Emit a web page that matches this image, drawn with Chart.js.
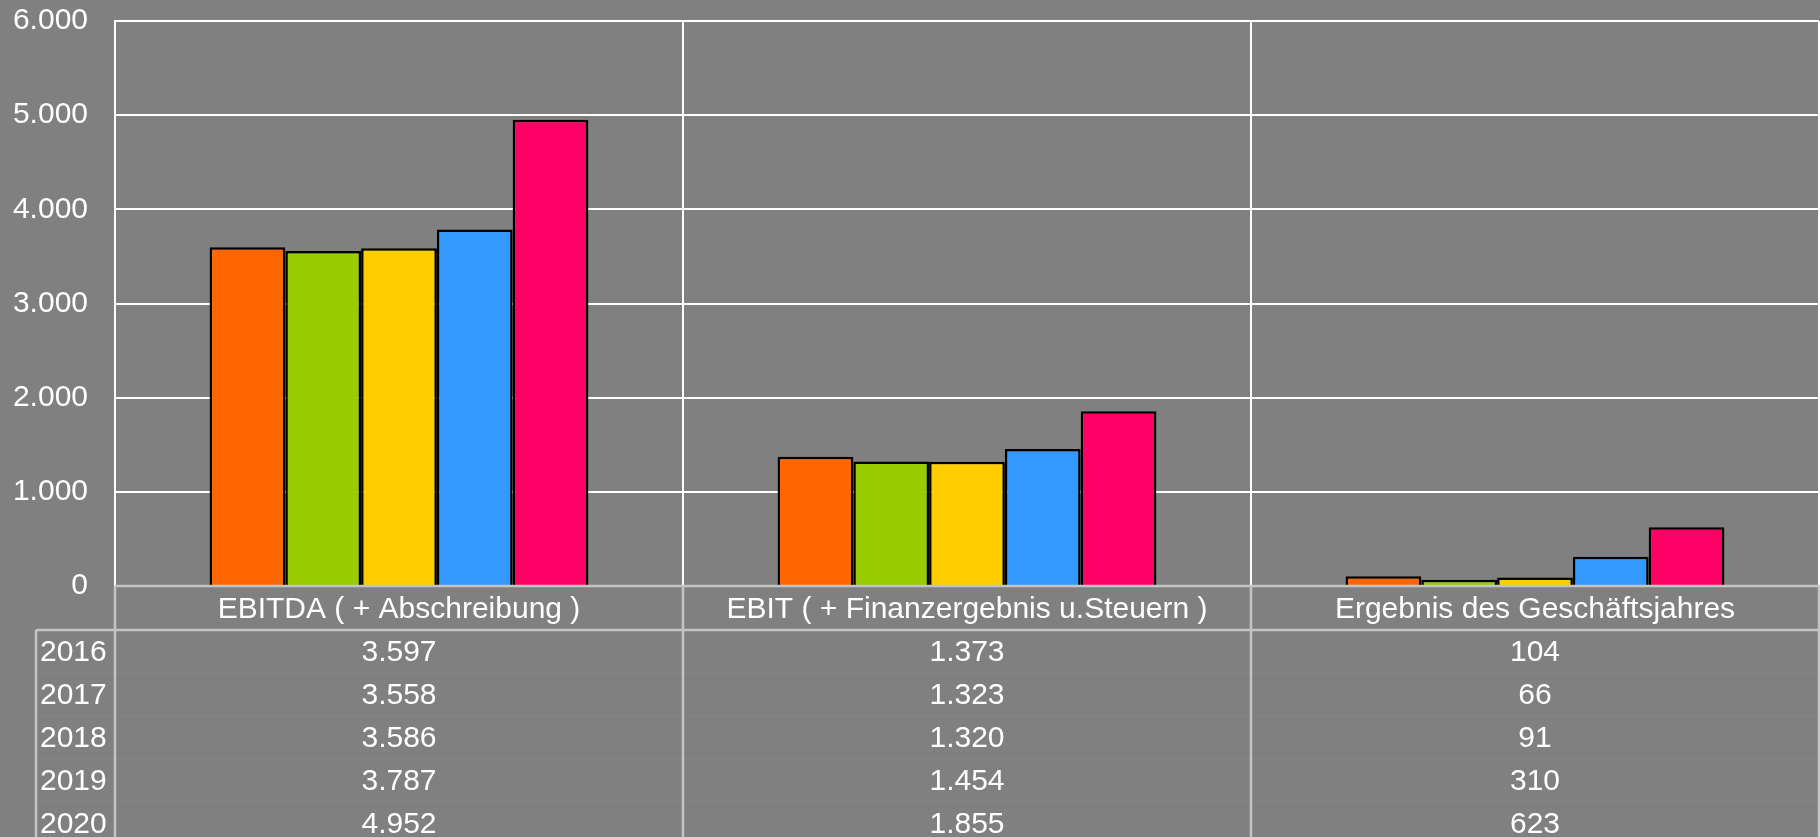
<!DOCTYPE html>
<html>
<head>
<meta charset="utf-8">
<script src="https://cdn.jsdelivr.net/npm/chart.js@4/dist/chart.umd.min.js"></script>
<style>
  html, body { margin: 0; padding: 0; background: #808080; overflow: hidden; }
  #wrap { width: 1820px; height: 837px; position: relative; }
</style>
</head>
<body>
<div id="wrap"><canvas id="c"></canvas></div>
<script>
const categories = ['EBITDA ( + Abschreibung )', 'EBIT ( + Finanzergebnis u.Steuern )', 'Ergebnis des Geschäftsjahres'];
const years = ['2016', '2017', '2018', '2019', '2020'];
const values2016 = [3597, 1373, 104];
const values2017 = [3558, 1323, 66];
const values2018 = [3586, 1320, 91];
const values2019 = [3787, 1454, 310];
const values2020 = [4952, 1855, 623];
const seriesValues = [values2016, values2017, values2018, values2019, values2020];
const seriesColors = ['#FF6600', '#99CC00', '#FFCC00', '#3399FF', '#FF0066'];
const yMin = 0, yMax = 6000, yStep = 1000;

const FONT = '"Liberation Sans", Arial, sans-serif';

function fmt(n) {
  const s = String(Math.abs(Math.round(n)));
  const out = s.replace(/\B(?=(\d{3})+(?!\d))/g, '.');
  return (n < 0 ? '-' : '') + out;
}

const tablePlugin = {
  id: 'dataTable',
  afterDraw(chart) {
    const ctx = chart.ctx;
    const area = chart.chartArea;
    const x = chart.scales.x;
    const headerH = 44;
    const rowH = 43;
    const top = area.bottom;
    const headBottom = top + headerH;
    const tableLeft = 36;
    const bottom = chart.height + 5;
    const n = categories.length;
    const step = x.getPixelForValue(1) - x.getPixelForValue(0);
    const bounds = [];
    for (let i = 0; i <= n; i++) bounds.push(x.getPixelForValue(0) - step / 2 + i * step);
    ctx.save();
    ctx.strokeStyle = 'rgba(200,200,200,0.10)';
    ctx.lineWidth = 1;
    for (let r = 1; r < years.length; r++) {
      const yy = headBottom + r * rowH;
      ctx.beginPath();
      ctx.moveTo(tableLeft, yy);
      ctx.lineTo(bounds[n], yy);
      ctx.stroke();
    }
    ctx.strokeStyle = '#C4C4C4';
    ctx.lineWidth = 2.5;
    ctx.beginPath();
    ctx.moveTo(bounds[0], top);
    ctx.lineTo(bounds[n], top);
    ctx.moveTo(tableLeft, headBottom);
    ctx.lineTo(bounds[n], headBottom);
    for (let i = 0; i <= n; i++) {
      ctx.moveTo(bounds[i], top);
      ctx.lineTo(bounds[i], bottom);
    }
    ctx.moveTo(tableLeft, headBottom);
    ctx.lineTo(tableLeft, bottom);
    ctx.stroke();

    ctx.fillStyle = '#FFFFFF';
    ctx.font = '30px ' + FONT;
    ctx.textBaseline = 'middle';
    for (let r = 0; r < years.length; r++) {
      const cy = headBottom + r * rowH + rowH / 2 + 1;
      ctx.textAlign = 'left';
      ctx.fillText(years[r], 40, cy);
      ctx.textAlign = 'center';
      for (let i = 0; i < n; i++) {
        ctx.fillText(fmt(seriesValues[r][i]), x.getPixelForValue(i), cy);
      }
    }
    ctx.restore();
  }
};

const datasets = years.map((yr, k) => ({
  label: yr,
  data: seriesValues[k],
  backgroundColor: seriesColors[k],
  borderColor: '#000000',
  borderWidth: 2.5,
  categoryPercentage: 0.667,
  barPercentage: 1.0
}));

new Chart(document.getElementById('c'), {
  type: 'bar',
  data: { labels: categories, datasets },
  plugins: [tablePlugin],
  options: {
    responsive: true,
    maintainAspectRatio: false,
    animation: false,
    layout: { padding: { top: 21, right: 1, bottom: 203, left: 0 } },
    plugins: { legend: { display: false }, tooltip: { enabled: false } },
    scales: {
      x: {
        grid: { color: '#FFFFFF', lineWidth: 2, drawTicks: false, offset: true },
        border: { color: '#C4C4C4', width: 2 },
        ticks: {
          color: '#FFFFFF',
          font: { size: 30, family: FONT },
          padding: 6,
          maxRotation: 0,
          autoSkip: false
        }
      },
      y: {
        min: yMin,
        max: yMax,
        afterFit(scale) { scale.width = 115; },
        grid: { color: '#FFFFFF', lineWidth: 2, drawTicks: true, tickLength: 24, tickColor: 'rgba(0,0,0,0)' },
        border: { color: '#FFFFFF', width: 2 },
        ticks: {
          stepSize: yStep,
          color: '#FFFFFF',
          font: { size: 30, family: FONT },
          padding: 3,
          callback: (v) => fmt(v)
        }
      }
    }
  }
});
</script>
</body>
</html>
